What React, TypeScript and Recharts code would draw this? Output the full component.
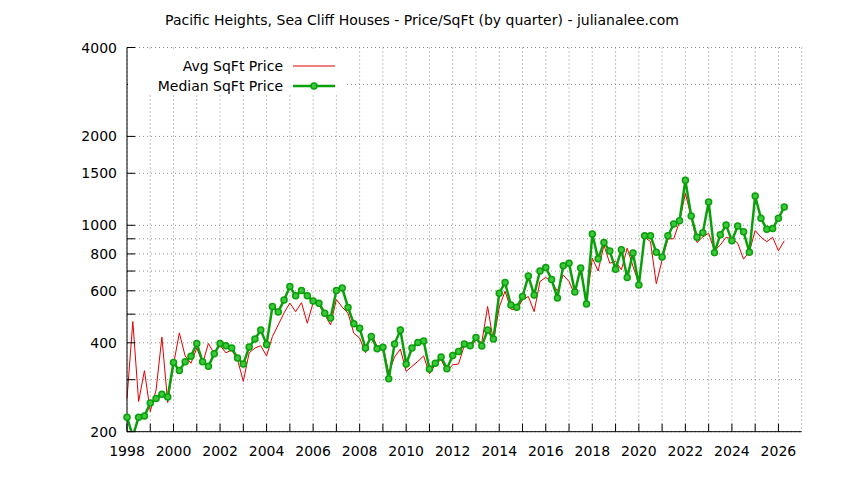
import { LineChart, Line, XAxis, YAxis, CartesianGrid, Legend } from 'recharts'

// quarterly price per sq ft, first quarter of 1998 onwards
const startYear = 1998

const avgSqFtPrice = [
    259, 472, 253, 322, 234, 277, 418, 251, 338, 432, 361, 341, 384, 341, 398, 367,
    392, 370, 378, 351, 296, 370, 384, 391, 361, 420, 460, 505, 545, 510, 547, 466,
    547, 538, 498, 460, 561, 528, 504, 431, 415, 370, 431, 389, 392, 316, 358, 381,
    320, 333, 346, 361, 314, 337, 351, 320, 337, 339, 392, 386, 409, 401, 531, 404,
    528, 598, 520, 517, 559, 574, 510, 645, 666, 645, 598, 679, 645, 581, 720, 545,
    774, 700, 857, 744, 755, 707, 837, 726, 634, 911, 880, 634, 763, 900, 900, 1030,
    1283, 1068, 874, 914, 940, 820, 857, 911, 900, 870, 768, 813, 960, 911, 880, 911,
    820, 886,
]

const medianSqFtPrice = [
    224, 193, 224, 226, 250, 259, 268, 262, 343, 322, 345, 360, 398, 345, 333, 367,
    398, 391, 384, 355, 339, 387, 412, 442, 395, 531, 509, 558, 621, 577, 601, 577,
    554, 545, 504, 485, 601, 613, 527, 464, 448, 384, 420, 382, 386, 302, 396, 442,
    339, 384, 401, 406, 326, 341, 358, 327, 362, 374, 396, 391, 417, 390, 442, 412,
    589, 640, 537, 528, 574, 673, 581, 700, 720, 655, 567, 729, 744, 594, 717, 541,
    934, 770, 875, 818, 710, 826, 666, 806, 628, 921, 921, 811, 781, 921, 1011, 1036,
    1422, 1076, 911, 944, 1200, 808, 929, 1002, 886, 995, 950, 811, 1256, 1056, 969, 975,
    1056, 1154,
]

const yearTicks = [
    1998, 1999, 2000, 2001, 2002, 2003, 2004, 2005, 2006, 2007, 2008, 2009, 2010, 2011, 2012,
    2013, 2014, 2015, 2016, 2017, 2018, 2019, 2020, 2021, 2022, 2023, 2024, 2025, 2026,
]
const yearLabels = [1998, 2000, 2002, 2004, 2006, 2008, 2010, 2012, 2014, 2016, 2018, 2020, 2022, 2024, 2026]

const priceTicks = [200, 300, 400, 500, 600, 700, 800, 900, 1000, 1500, 2000, 3000, 4000]
const priceLabels = [200, 400, 600, 800, 1000, 1500, 2000, 4000]

const chartData = avgSqFtPrice.map((avg, i) => ({
    quarter: startYear + i / 4,
    avg,
    median: medianSqFtPrice[i],
}))

const RED = '#e00000'
const GREEN = '#0aa00a'

// gnuplot style ticks: pointing inwards, labels outside
const BottomTick = (props: any) => {
    const { x, y, payload } = props
    return (
        <g>
            <line x1={x} y1={y} x2={x} y2={y - 8} stroke="#000" />
            {yearLabels.includes(payload.value) && (
                <text x={x} y={y + 24.5} textAnchor="middle" fontSize={14} fill="#000">
                    {payload.value}
                </text>
            )}
        </g>
    )
}

const TopTick = (props: any) => {
    const { x, y } = props
    return <line x1={x} y1={y} x2={x} y2={y + 8} stroke="#000" />
}

const LeftTick = (props: any) => {
    const { x, y, payload } = props
    return (
        <g>
            <line x1={x} y1={y} x2={x + 8} y2={y} stroke="#000" />
            {priceLabels.includes(payload.value) && (
                <text x={x - 10} y={y + 5} textAnchor="end" fontSize={14} fill="#000">
                    {payload.value}
                </text>
            )}
        </g>
    )
}

const RightTick = (props: any) => {
    const { x, y } = props
    return <line x1={x} y1={y} x2={x - 8} y2={y} stroke="#000" />
}

const KeyBox = () => (
    <div style={{ width: 216, height: 46, background: '#fff' }}>
        <svg width={216} height={46} style={{ display: 'block' }}>
            <text x={155} y={22} textAnchor="end" fontSize={14} fill="#000">Avg SqFt Price</text>
            <line x1={165} y1={17} x2={207} y2={17} stroke={RED} strokeWidth={1} />
            <text x={155} y={42} textAnchor="end" fontSize={14} fill="#000">Median SqFt Price</text>
            <line x1={165} y1={37} x2={207} y2={37} stroke={GREEN} strokeWidth={2.5} />
            <circle cx={186} cy={37} r={3} fill="#3cc83c" stroke={GREEN} strokeWidth={1.5} />
        </svg>
    </div>
)

export default function App() {
    return (
        <div
            style={{
                position: 'absolute',
                left: 0,
                top: 0,
                width: 844,
                height: 480,
                background: '#fff',
                fontFamily: '"DejaVu Sans", sans-serif',
            }}
        >
            <div
                style={{
                    position: 'absolute',
                    top: 0,
                    left: 0,
                    width: 844,
                    textAlign: 'center',
                    fontSize: 14,
                    lineHeight: '14px',
                    paddingTop: 13,
                    color: '#000',
                }}
            >
                Pacific Heights, Sea Cliff Houses - Price/SqFt (by quarter) - julianalee.com
            </div>
            <LineChart
                width={844}
                height={480}
                data={chartData}
                margin={{ top: 47.5, right: 42.3, bottom: 0, left: 0 }}
            >
                <CartesianGrid stroke="#8a8a8a" strokeDasharray="1 3" />
                <XAxis
                    dataKey="quarter"
                    type="number"
                    domain={[1998, 2027]}
                    ticks={yearTicks}
                    interval={0}
                    height={48.3}
                    tickSize={0}
                    tickMargin={0}
                    tickLine={false}
                    axisLine={{ stroke: '#000' }}
                    tick={<BottomTick />}
                />
                <XAxis
                    xAxisId="top"
                    orientation="top"
                    dataKey="quarter"
                    type="number"
                    domain={[1998, 2027]}
                    ticks={yearTicks}
                    interval={0}
                    height={0}
                    tickSize={0}
                    tickMargin={0}
                    tickLine={false}
                    axisLine={{ stroke: '#000' }}
                    tick={<TopTick />}
                />
                <YAxis
                    scale="log"
                    domain={[200, 4000]}
                    allowDataOverflow
                    ticks={priceTicks}
                    interval={0}
                    width={127}
                    tickSize={0}
                    tickMargin={0}
                    tickLine={false}
                    axisLine={{ stroke: '#000' }}
                    tick={<LeftTick />}
                />
                <YAxis
                    yAxisId="right"
                    orientation="right"
                    scale="log"
                    domain={[200, 4000]}
                    allowDataOverflow
                    ticks={priceTicks}
                    interval={0}
                    width={0}
                    tickSize={0}
                    tickMargin={0}
                    tickLine={false}
                    axisLine={{ stroke: '#000' }}
                    tick={<RightTick />}
                />
                <Legend
                    layout="vertical"
                    align="center"
                    verticalAlign="middle"
                    content={() => <KeyBox />}
                    wrapperStyle={{ left: 128, top: 48.5, width: 216, height: 46 }}
                />
                <Line
                    type="linear"
                    dataKey="avg"
                    name="Avg SqFt Price"
                    stroke={RED}
                    strokeWidth={1}
                    dot={false}
                    isAnimationActive={false}
                />
                <Line
                    type="linear"
                    dataKey="median"
                    name="Median SqFt Price"
                    stroke={GREEN}
                    strokeWidth={2.5}
                    dot={{ r: 3, fill: '#3cc83c', stroke: GREEN, strokeWidth: 1.5 }}
                    isAnimationActive={false}
                />
            </LineChart>
        </div>
    )
}
